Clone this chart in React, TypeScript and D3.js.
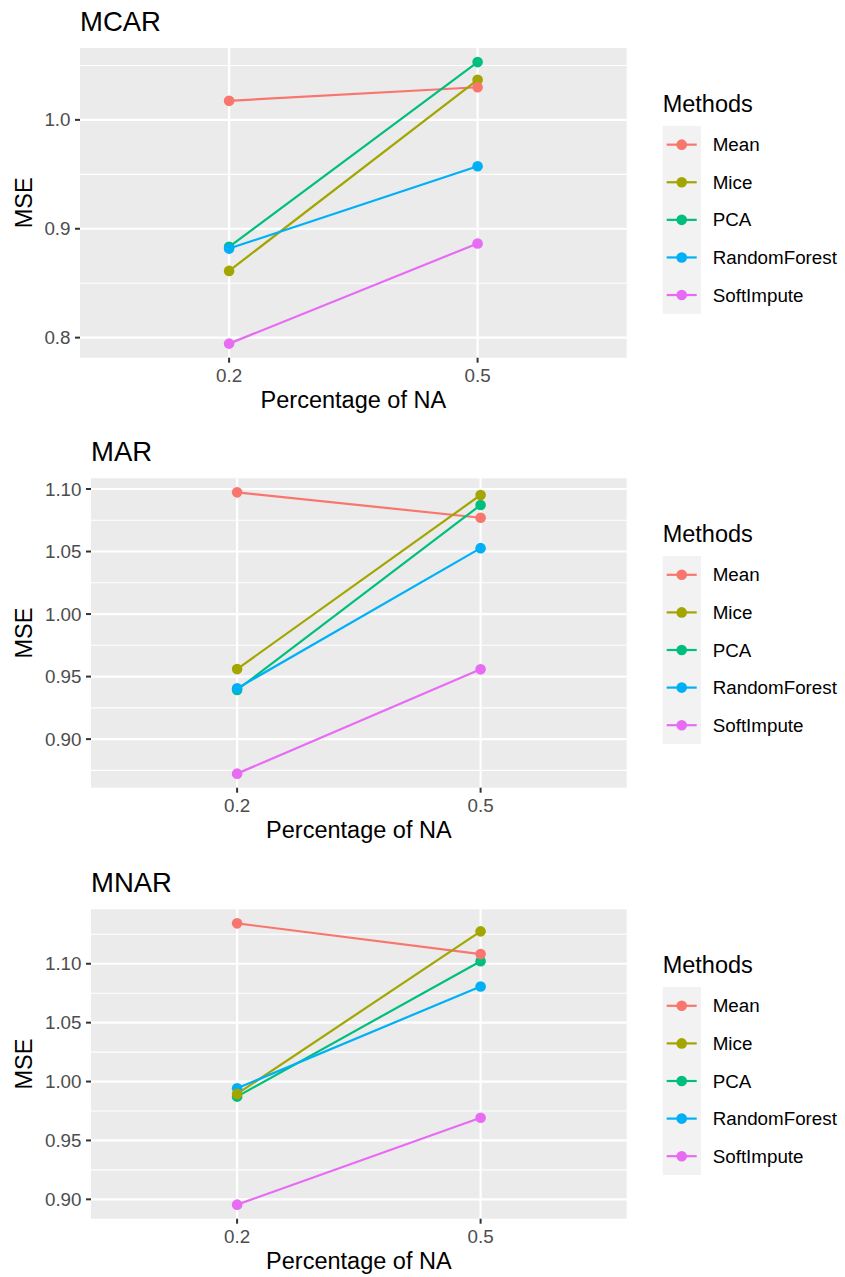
import React, { useEffect, useRef } from "react";
import * as d3 from "d3";

// ---------- data ----------
const methods = ["Mean", "Mice", "PCA", "RandomForest", "SoftImpute"];
const methodColors = ["#F8766D", "#A3A500", "#00BF7D", "#00B0F6", "#E76BF3"];
const naLevels = ["0.2", "0.5"];

// values per method (same order as methods), at NA = 0.2 and 0.5
const mcarValues = [
  [1.0175, 1.0300],
  [0.8613, 1.0368],
  [0.8834, 1.0531],
  [0.8818, 0.9574],
  [0.7945, 0.8865],
];
const marValues = [
  [1.0973, 1.0770],
  [0.9560, 1.0952],
  [0.9393, 1.0872],
  [0.9406, 1.0527],
  [0.8724, 0.9558],
];
const mnarValues = [
  [1.1343, 1.1082],
  [0.9895, 1.1275],
  [0.9872, 1.1022],
  [0.9943, 1.0807],
  [0.8955, 0.9693],
];

const mcarTicks = [0.8, 0.9, 1.0];
const mcarTickLabels = ["0.8", "0.9", "1.0"];
const marTicks = [0.9, 0.95, 1.0, 1.05, 1.1];
const marTickLabels = ["0.90", "0.95", "1.00", "1.05", "1.10"];
const mnarTicks = [0.9, 0.95, 1.0, 1.05, 1.1];
const mnarTickLabels = ["0.90", "0.95", "1.00", "1.05", "1.10"];

const titles = ["MCAR", "MAR", "MNAR"];
// order in which points are stacked (indices into methods)
const pointOrder = [2, 3, 1, 0, 4];

const W = 845;
const H = 1277;

export default function App() {
  const ref = useRef<SVGSVGElement | null>(null);

  useEffect(() => {
    const svg = d3.select(ref.current);
    svg.selectAll("*").remove();
    const font = "'Liberation Sans', Arial, Helvetica, sans-serif";

    const panels = [
      { values: mcarValues, ticks: mcarTicks, labels: mcarTickLabels, left: 80, top: 48, bottom: 357.7 },
      { values: marValues, ticks: marTicks, labels: marTickLabels, left: 91, top: 478.3, bottom: 787.7 },
      { values: mnarValues, ticks: mnarTicks, labels: mnarTickLabels, left: 91, top: 909.3, bottom: 1218.7 },
    ];
    const right = 626.7;

    panels.forEach((p, pi) => {
      const g = svg.append("g");
      const all = p.values.flat();
      const mn = d3.min(all) as number;
      const mx = d3.max(all) as number;
      const ex = (mx - mn) * 0.05;
      const y = d3.scaleLinear().domain([mn - ex, mx + ex]).range([p.bottom, p.top]);
      const x = d3.scalePoint<string>().domain(naLevels).range([p.left, right]).padding(0.6);

      // panel background
      g.append("rect")
        .attr("x", p.left).attr("y", p.top)
        .attr("width", right - p.left).attr("height", p.bottom - p.top)
        .attr("fill", "#EBEBEB");

      // minor gridlines
      const step = p.ticks[1] - p.ticks[0];
      const minors: number[] = [];
      for (let i = -1; i < p.ticks.length; i++) {
        const v = p.ticks[0] + step * (i + 0.5);
        const [a, b] = y.domain();
        if (v >= a && v <= b) minors.push(v);
      }
      g.selectAll(".minor").data(minors).enter().append("line")
        .attr("x1", p.left).attr("x2", right)
        .attr("y1", (d) => y(d)).attr("y2", (d) => y(d))
        .attr("stroke", "#FFFFFF").attr("stroke-width", 1.1);

      // major gridlines
      g.selectAll(".major").data(p.ticks).enter().append("line")
        .attr("x1", p.left).attr("x2", right)
        .attr("y1", (d) => y(d)).attr("y2", (d) => y(d))
        .attr("stroke", "#FFFFFF").attr("stroke-width", 2.2);
      g.selectAll(".vmajor").data(naLevels).enter().append("line")
        .attr("x1", (d) => x(d) as number).attr("x2", (d) => x(d) as number)
        .attr("y1", p.top).attr("y2", p.bottom)
        .attr("stroke", "#FFFFFF").attr("stroke-width", 2.2);

      // y ticks + labels
      g.selectAll(".yt").data(p.ticks).enter().append("line")
        .attr("x1", p.left - 5).attr("x2", p.left)
        .attr("y1", (d) => y(d)).attr("y2", (d) => y(d))
        .attr("stroke", "#333333").attr("stroke-width", 2);
      g.selectAll(".ytl").data(p.ticks).enter().append("text")
        .attr("x", p.left - 9.5).attr("y", (d) => y(d))
        .attr("dy", "0.35em")
        .attr("text-anchor", "end")
        .attr("font-family", font).attr("font-size", 18.8).attr("fill", "#4D4D4D")
        .text((d, i) => p.labels[i]);

      // x ticks + labels
      g.selectAll(".xt").data(naLevels).enter().append("line")
        .attr("x1", (d) => x(d) as number).attr("x2", (d) => x(d) as number)
        .attr("y1", p.bottom).attr("y2", p.bottom + 5)
        .attr("stroke", "#333333").attr("stroke-width", 2);
      g.selectAll(".xtl").data(naLevels).enter().append("text")
        .attr("x", (d) => x(d) as number).attr("y", p.bottom + 24.5)
        .attr("text-anchor", "middle")
        .attr("font-family", font).attr("font-size", 18.8).attr("fill", "#4D4D4D")
        .text((d) => d);

      // axis titles
      g.append("text")
        .attr("x", (p.left + right) / 2).attr("y", p.bottom + 50.5)
        .attr("text-anchor", "middle")
        .attr("font-family", font).attr("font-size", 23.5).attr("fill", "#000000")
        .text("Percentage of NA");
      const cy = (p.top + p.bottom) / 2;
      g.append("text")
        .attr("transform", `translate(32,${cy}) rotate(-90)`)
        .attr("text-anchor", "middle")
        .attr("font-family", font).attr("font-size", 23.5).attr("fill", "#000000")
        .text("MSE");

      // plot title
      g.append("text")
        .attr("x", p.left).attr("y", p.top - 17.3)
        .attr("font-family", font).attr("font-size", 27.5).attr("fill", "#000000")
        .text(titles[pi]);

      // lines
      const line = d3.line<number>()
        .x((d, i) => x(naLevels[i]) as number)
        .y((d) => y(d));
      methods.forEach((m, mi) => {
        g.append("path")
          .attr("d", line(p.values[mi]) as string)
          .attr("fill", "none")
          .attr("stroke", methodColors[mi])
          .attr("stroke-width", 2.2);
      });
      // points
      pointOrder.forEach((mi) => {
        p.values[mi].forEach((v, i) => {
          g.append("circle")
            .attr("cx", x(naLevels[i]) as number)
            .attr("cy", y(v))
            .attr("r", 5.3)
            .attr("fill", methodColors[mi]);
        });
      });

      // legend
      const keyH = 37.6;
      const keyTop = cy + 17 - 2.5 * keyH;
      const lx = 662.7;
      g.append("text")
        .attr("x", lx).attr("y", keyTop - 14)
        .attr("font-family", font).attr("font-size", 23.5).attr("fill", "#000000")
        .text("Methods");
      g.append("rect")
        .attr("x", lx).attr("y", keyTop)
        .attr("width", 38.3).attr("height", keyH * methods.length)
        .attr("fill", "#F2F2F2");
      methods.forEach((m, mi) => {
        const ky = keyTop + keyH * (mi + 0.5);
        g.append("line")
          .attr("x1", lx + 4).attr("x2", lx + 34)
          .attr("y1", ky).attr("y2", ky)
          .attr("stroke", methodColors[mi]).attr("stroke-width", 2.2);
        g.append("circle")
          .attr("cx", lx + 19).attr("cy", ky).attr("r", 5.3)
          .attr("fill", methodColors[mi]);
        g.append("text")
          .attr("x", 712.7).attr("y", ky).attr("dy", "0.35em")
          .attr("font-family", font).attr("font-size", 18.8).attr("fill", "#000000")
          .text(m);
      });
    });
  }, []);

  return (
    <svg
      ref={ref}
      width={W}
      height={H}
      style={{ position: "absolute", left: 0, top: 0, background: "#FFFFFF" }}
    />
  );
}
